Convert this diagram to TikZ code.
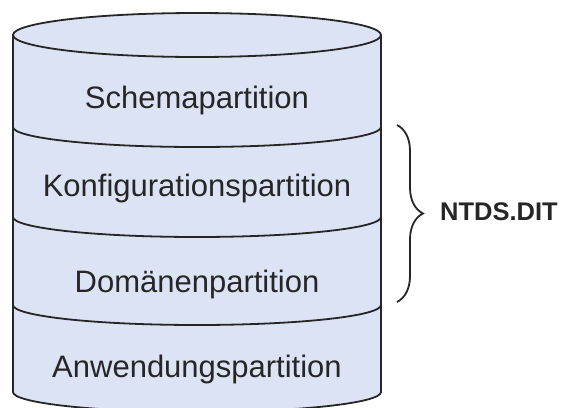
\documentclass[tikz,border=0pt]{standalone}
\usepackage{fontspec}
\setmainfont{Liberation Sans}
\usetikzlibrary{decorations.pathreplacing}
\definecolor{drumfill}{HTML}{DCE3F4}
\definecolor{inkline}{HTML}{262626}
\begin{document}
\begin{tikzpicture}[x=1pt,y=-1pt,
  outline/.style={draw=inkline,line width=1.8pt},
  partlabel/.style={font=\fontsize{31}{36}\selectfont,text=inkline,inner sep=0pt,anchor=base},
  filelabel/.style={font=\bfseries\fontsize{25.5}{30}\selectfont,text=inkline,inner sep=0pt,anchor=base west},
  frontarc/.style={start angle=180,end angle=0,x radius=184,y radius=20}]
\useasboundingbox (0,0) rectangle (562,407);
\begin{scope}
  \clip (0,0) rectangle (562,407);
  % cylinder body and lid
  \fill[drumfill] (13,35) -- (13,392) arc[frontarc] -- (381,35) -- cycle;
  \fill[drumfill] (197,35) ellipse[x radius=184,y radius=22];
  \draw[outline] (13,35) -- (13,392) arc[frontarc] -- (381,35);
  \draw[outline] (197,35) ellipse[x radius=184,y radius=22];
  % partition boundaries
  \draw[outline] (13,127) arc[frontarc];
  \draw[outline] (13,217) arc[frontarc];
  \draw[outline] (13,305) arc[frontarc];
\end{scope}
% partition names
\node[partlabel] (schema) at (197,108) {Schemapartition};
\node[partlabel] (konfig) at (197,196) {Konfigurationspartition};
\node[partlabel] (domain) at (197,292) {Domänenpartition};
\node[partlabel] (anwend) at (197,377) {Anwendungspartition};
% brace grouping the three partitions stored in the file
\coordinate (bracetop) at (397,125);
\coordinate (bracebot) at (397,302);
\draw[outline,decorate,decoration={brace,amplitude=26pt}] (bracetop) -- (bracebot);
\node[filelabel] (ntds) at (440,220) {NTDS.DIT};
\end{tikzpicture}
\end{document}
